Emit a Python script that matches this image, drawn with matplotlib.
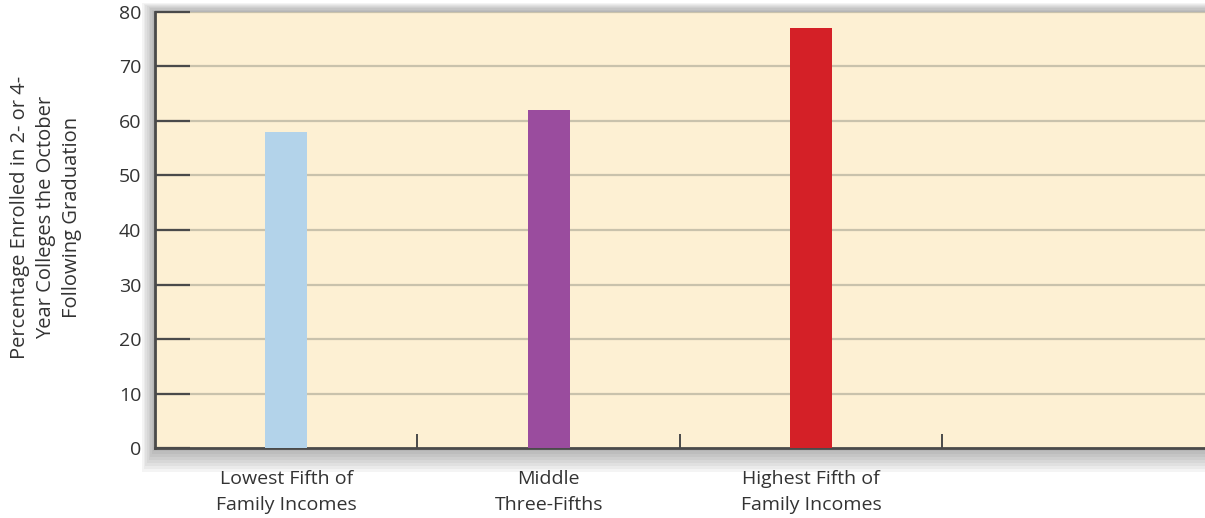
import matplotlib
matplotlib.use("Agg")
from matplotlib import pyplot as plt
from matplotlib.patches import Rectangle

plt.rcParams['font.family'] = ['Open Sans', 'DejaVu Sans']

categories = ['Lowest Fifth of\nFamily Incomes', 'Middle\nThree-Fifths', 'Highest Fifth of\nFamily Incomes']
values = [58, 62, 77]
colors = ['#B3D3EA', '#9A4C9E', '#D42027']
yticks = [0, 10, 20, 30, 40, 50, 60, 70, 80]

fig = plt.figure(figsize=(12.05, 5.18), dpi=100)
ax = fig.add_axes([0.1286, 0.135, 0.8714, 0.842])
ax.set_zorder(5)

# soft drop shadow around the plot area
for i in range(8):
    d = 0.0022 * (i + 1)
    fig.patches.append(Rectangle((0.1286 - d * 0.6, 0.135 - d * 2.6), 0.8714 + d * 2, 0.842 + d * 3.6,
                                 transform=fig.transFigure, facecolor='#303030',
                                 alpha=0.05, edgecolor='none', zorder=0))

ax.set_facecolor('#FDF0D3')
ax.set_xlim(-0.5, 3.5)
ax.set_ylim(0, 80)

for y in yticks[1:]:
    ax.axhline(y, color='#C9C2AC', lw=1.6, zorder=1)

ax.bar(range(len(values)), values, width=0.16, color=colors, zorder=3)

ax.set_yticks(yticks)
ax.set_yticklabels([str(t) for t in yticks], fontsize=14, color='#333333')
ax.tick_params(axis='y', direction='in', length=25, width=1.6, color='#4a4a4a', pad=10)

ax.set_xticks(range(len(categories)))
ax.set_xticklabels(categories, fontsize=14, color='#333333', linespacing=1.55)
ax.tick_params(axis='x', which='major', length=0, pad=16)
ax.set_xticks([0.5, 1.5, 2.5], minor=True)
ax.tick_params(axis='x', which='minor', direction='in', length=10, width=1.4, color='#4a4a4a')

for s in ['top', 'right']:
    ax.spines[s].set_visible(False)
for s in ['left', 'bottom']:
    ax.spines[s].set_color('#4a4a4a')
    ax.spines[s].set_linewidth(2)

fig.text(0.038, 0.58, 'Percentage Enrolled in 2- or 4-\nYear Colleges the October\nFollowing Graduation',
         rotation=90, ha='center', va='center', fontsize=14.5, color='#333333', linespacing=1.4)

fig.savefig('out.png', dpi=100, facecolor='white')
